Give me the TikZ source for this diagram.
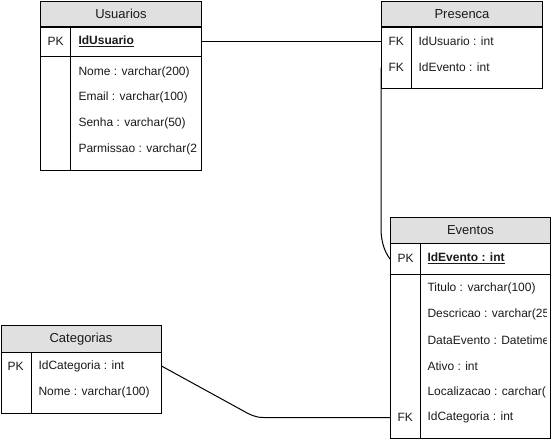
\documentclass[tikz,border=0pt]{standalone}
\usepackage{fontspec}
\setmainfont{Liberation Sans}
\definecolor{hdrgray}{HTML}{E0E0E0}
\definecolor{ink}{HTML}{1A1A1A}
\begin{document}
\begin{tikzpicture}[x=1pt,y=-1pt,line width=1pt,
  font=\fontsize{12}{14}\selectfont,
  hdr/.style={draw,fill=hdrgray,inner sep=0pt,anchor=north west,text=ink,
    font=\fontsize{13}{15}\selectfont},
  sec/.style={draw,inner sep=0pt,anchor=north west},
  rowbox/.style={inner sep=0pt,anchor=north west},
  fld/.style={inner sep=0pt,anchor=west,text=ink},
  link/.style={draw,line width=1pt}]
\useasboundingbox (0,0) rectangle (551,440);

% ---------------- Usuarios ----------------
\node[hdr,minimum width=161pt,minimum height=26pt] (usr-head) at (40,0.5) {Usuarios};
\node[sec,minimum width=161pt,minimum height=30pt] (usr-pk) at (40,26) {};
\node[sec,minimum width=161pt,minimum height=114pt] (usr-body) at (40,56) {};
\draw ([xshift=30pt]usr-pk.north west) -- ([xshift=30pt]usr-body.south west);
\node[fld] (usr-pk-k) at (47,41) {PK};
\node[fld] (usr-pk-f) at (78,41) {\underline{\textbf{IdUsuario}}};
\begin{scope}
  \clip (71,57) rectangle (196,169);
  \node[fld] (usr-f1) at (78,72) {Nome : varchar(200)};
  \node[fld] (usr-f2) at (78,97) {Email : varchar(100)};
  \node[fld] (usr-f3) at (78,123) {Senha : varchar(50)};
  \node[fld] (usr-f4) at (78,149) {Parmissao : varchar(2};
\end{scope}

% ---------------- Presenca ----------------
\node[hdr,minimum width=161pt,minimum height=26pt] (pre-head) at (381,0.5) {Presenca};
\node[sec,minimum width=161pt,minimum height=62pt] (pre-body) at (381,26) {};
\draw ([xshift=30pt]pre-body.north west) -- ([xshift=30pt]pre-body.south west);
\node[rowbox,minimum width=161pt,minimum height=26pt] (pre-uid) at (381,28) {};
\node[rowbox,minimum width=161pt,minimum height=26pt] (pre-ev) at (381,54) {};
\node[fld] (pre-k1) at (388,41) {FK};
\node[fld] (pre-f1) at (418,41) {IdUsuario : int};
\node[fld] (pre-k2) at (388,67) {FK};
\node[fld] (pre-f2) at (418,67) {IdEvento : int};

% ---------------- Eventos ----------------
\node[hdr,minimum width=160pt,minimum height=26pt] (evt-head) at (390,217) {Eventos};
\node[sec,minimum width=160pt,minimum height=31pt] (evt-pk) at (390,243) {};
\node[sec,minimum width=160pt,minimum height=164pt] (evt-body) at (390,274) {};
\draw ([xshift=30pt]evt-pk.north west) -- ([xshift=30pt]evt-body.south west);
\node[rowbox,minimum width=160pt,minimum height=26pt] (evt-fk) at (390,404) {};
\node[fld] (evt-pk-k) at (397,258.5) {PK};
\node[fld] (evt-pk-f) at (427,258.5) {\underline{\textbf{IdEvento : int}}};
\begin{scope}
  \clip (421,275) rectangle (546,437);
  \node[fld] (evt-f1) at (427,288) {Titulo : varchar(100)};
  \node[fld] (evt-f2) at (427,314) {Descricao : varchar(25};
  \node[fld] (evt-f3) at (427,340) {DataEvento : Datetime};
  \node[fld] (evt-f4) at (427,366) {Ativo : int};
  \node[fld] (evt-f5) at (427,392) {Localizacao : carchar(};
  \node[fld] (evt-f6) at (427,417) {IdCategoria : int};
\end{scope}
\node[fld] (evt-fk-k) at (397,417) {FK};

% ---------------- Categorias ----------------
\node[hdr,minimum width=160pt,minimum height=27pt] (cat-head) at (0.5,325) {Categorias};
\node[sec,minimum width=160pt,minimum height=61pt] (cat-body) at (0.5,352) {};
\draw ([xshift=30.5pt]cat-body.north west) -- ([xshift=30.5pt]cat-body.south west);
\node[rowbox,minimum width=160pt,minimum height=27pt] (cat-id) at (0.5,352) {};
\node[fld] (cat-k1) at (7,366) {PK};
\node[fld] (cat-f1) at (38,366) {IdCategoria : int};
\node[fld] (cat-f2) at (38,392) {Nome : varchar(100)};

% ---------------- relationships ----------------
\draw[link] (usr-pk.east) -- (pre-uid.west);
\draw[link] (pre-ev.west) -- ++(0,161)
  .. controls +(0,12) and +(-6,-8) .. (evt-pk.west);
\draw[link] (cat-id.east) -- ++(82,45)
  .. controls +(6,3.5) and +(-8,0) .. ++(20,6.5) -- (evt-fk.west);
\end{tikzpicture}
\end{document}
